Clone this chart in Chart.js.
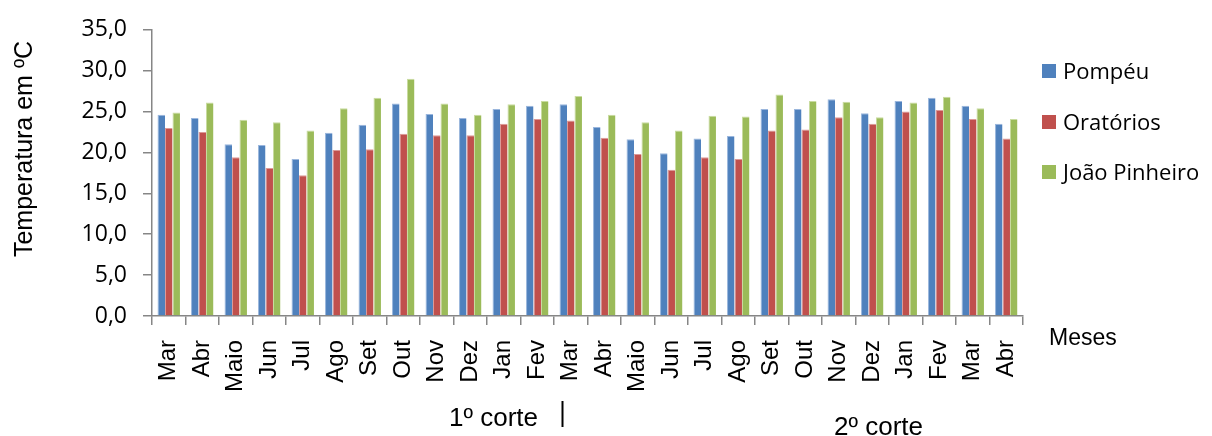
<!DOCTYPE html>
<html>
<head>
<meta charset="utf-8">
<script src="https://cdn.jsdelivr.net/npm/chart.js@4.4.1/dist/chart.umd.min.js"></script>
<style>
  html, body { margin: 0; padding: 0; background: #fff; }
  canvas { display: block; }
</style>
</head>
<body>
<canvas id="c" width="1212" height="436"></canvas>
<script>
// Monthly mean temperature (ºC) at three stations, two cutting cycles
const months = ['Mar', 'Abr', 'Maio', 'Jun', 'Jul', 'Ago', 'Set', 'Out', 'Nov', 'Dez', 'Jan', 'Fev',
                'Mar', 'Abr', 'Maio', 'Jun', 'Jul', 'Ago', 'Set', 'Out', 'Nov', 'Dez', 'Jan', 'Fev', 'Mar', 'Abr'];

const pompeu       = [24.6, 24.2, 21.0, 20.9, 19.2, 22.4, 23.4, 26.0, 24.7, 24.2, 25.3, 25.7, 25.9,
                      23.1, 21.6, 19.9, 21.7, 22.0, 25.3, 25.3, 26.5, 24.8, 26.3, 26.7, 25.7, 23.5];
const oratorios    = [23.0, 22.5, 19.4, 18.1, 17.2, 20.3, 20.4, 22.3, 22.1, 22.1, 23.5, 24.1, 23.9,
                      21.8, 19.8, 17.9, 19.4, 19.2, 22.7, 22.8, 24.3, 23.5, 25.0, 25.2, 24.1, 21.7];
const joaoPinheiro = [24.9, 26.1, 24.0, 23.7, 22.7, 25.4, 26.7, 29.0, 26.0, 24.6, 25.9, 26.3, 26.9,
                      24.6, 23.7, 22.7, 24.5, 24.4, 27.1, 26.3, 26.2, 24.3, 26.1, 26.8, 25.4, 24.1];

const yTickLabels = ['0,0', '5,0', '10,0', '15,0', '20,0', '25,0', '30,0', '35,0'];
const seriesNames = ['Pompéu', 'Oratórios', 'João Pinheiro'];

const fillColors = ['#4F81BD', '#C0504D', '#9BBB59'];
const edgeColors = ['#9AB6DD', '#DC9A98', '#C9DCA0'];
const axisColor = '#868686';

// Axis title, period captions and legend
const decorPlugin = {
  id: 'decor',
  afterDraw(chart) {
    const ctx = chart.ctx;
    ctx.save();
    ctx.fillStyle = '#000';

    // y axis title
    ctx.save();
    ctx.translate(25, 149);
    ctx.rotate(-Math.PI / 2);
    ctx.font = '25px "Liberation Sans", Arial, sans-serif';
    ctx.textAlign = 'center';
    ctx.textBaseline = 'middle';
    ctx.fillText('Temperatura em ºC', 0, 0);
    ctx.restore();

    // x axis caption
    ctx.font = '23px "Liberation Sans", Arial, sans-serif';
    ctx.textAlign = 'left';
    ctx.textBaseline = 'alphabetic';
    ctx.fillText('Meses', 1049, 345);

    // cutting periods
    ctx.font = '26px "Liberation Sans", Arial, sans-serif';
    ctx.fillText('1º corte', 449, 426);
    ctx.fillText('2º corte', 834, 435);

    ctx.strokeStyle = '#000';
    ctx.lineWidth = 2;
    ctx.beginPath();
    ctx.moveTo(562.5, 401);
    ctx.lineTo(562.5, 427);
    ctx.stroke();

    // legend
    const baselines = [79, 130, 180];
    ctx.font = '22px "Open Sans", sans-serif';
    chart.data.datasets.forEach((ds, i) => {
      const b = baselines[i];
      ctx.fillStyle = ds.backgroundColor;
      ctx.fillRect(1042, b - 15, 14, 14);
      ctx.fillStyle = '#000';
      ctx.fillText(ds.label, 1063, b);
    });
    ctx.restore();
  }
};

const seriesValues = [pompeu, oratorios, joaoPinheiro];

new Chart(document.getElementById('c'), {
  type: 'bar',
  data: {
    labels: months,
    datasets: seriesValues.map((vals, i) => ({
      label: seriesNames[i],
      data: vals,
      backgroundColor: fillColors[i],
      borderColor: edgeColors[i],
      borderWidth: { top: 1, left: 1, right: 0, bottom: 0 },
      borderSkipped: false,
      categoryPercentage: 0.67,
      barPercentage: 1.0
    }))
  },
  options: {
    responsive: false,
    animation: false,
    devicePixelRatio: 1,
    layout: { padding: { left: 0, right: 189, top: 24, bottom: 0 } },
    plugins: {
      legend: { display: false },
      tooltip: { enabled: false },
      title: { display: false }
    },
    scales: {
      x: {
        afterFit(scale) { scale.height = 120; },
        grid: {
          display: true,
          offset: true,
          drawOnChartArea: false,
          drawTicks: true,
          tickLength: 9,
          color: axisColor,
          lineWidth: 1.5
        },
        border: { display: true, color: axisColor, width: 1.5 },
        ticks: {
          autoSkip: false,
          minRotation: 90,
          maxRotation: 90,
          padding: 15,
          color: '#000',
          font: { family: '"Liberation Sans", Arial, sans-serif', size: 24 }
        }
      },
      y: {
        min: 0,
        max: 35,
        afterFit(scale) { scale.width = 152; },
        grid: {
          display: true,
          drawOnChartArea: false,
          drawTicks: true,
          tickLength: 9,
          color: axisColor,
          lineWidth: 1.5
        },
        border: { display: true, color: axisColor, width: 1.5 },
        ticks: {
          stepSize: 5,
          padding: 16,
          color: '#000',
          font: { family: '"Open Sans", sans-serif', size: 23 },
          callback: (v, i) => yTickLabels[i]
        }
      }
    }
  },
  plugins: [decorPlugin]
});
</script>
</body>
</html>
